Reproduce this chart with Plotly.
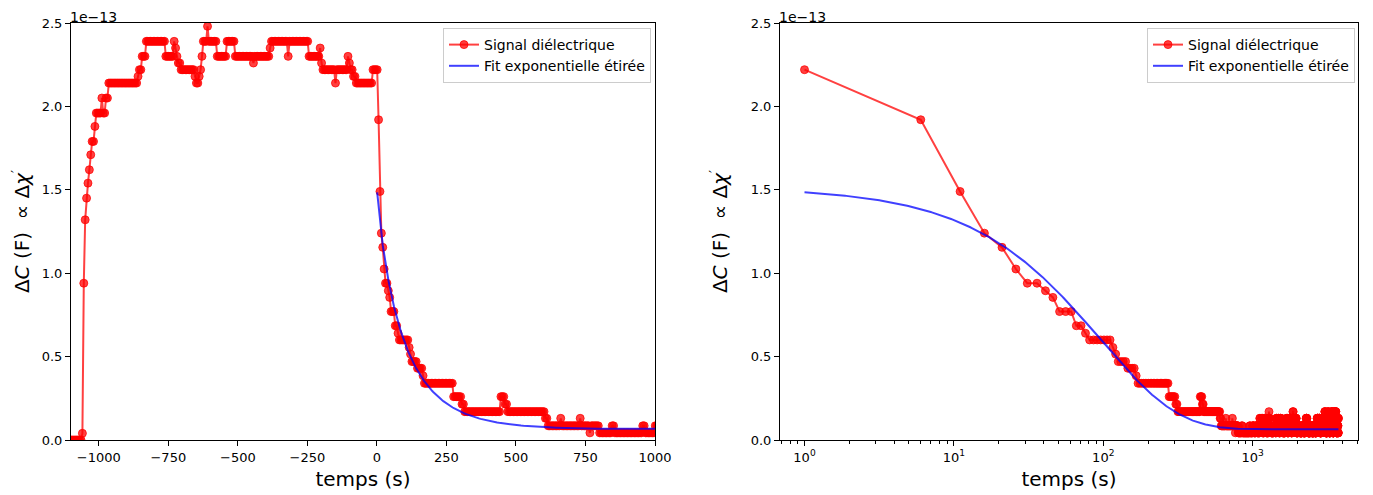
import numpy as np
import plotly.graph_objects as go

# ---------------- data (values in units of 1e-13 F) ----------------
# acquisition grid: one point every 5 s, first point at t = -1099 s
t_first = -1099
t_step = 5

# signal before and at the field switch (run-length: value, count)
pre_values = [0.0, 0.04, 0.94, 1.32, 1.45, 1.54, 1.62, 1.71, 1.79, 1.88, 1.96, 2.05, 1.96, 2.05,
              2.14, 2.18, 2.22, 2.30, 2.39, 2.30, 2.39, 2.35, 2.30, 2.26, 2.22, 2.18, 2.14, 2.18,
              2.22, 2.30, 2.39, 2.48, 2.39, 2.30, 2.39, 2.30, 2.26, 2.30, 2.35, 2.39, 2.30, 2.39,
              2.30, 2.35, 2.26, 2.22, 2.14, 2.22, 2.30, 2.26, 2.22, 2.18, 2.14, 2.22]
pre_counts = [8, 1, 1, 1, 1, 1, 1, 1, 2, 1, 4, 1, 2, 2,
              21, 1, 2, 3, 14, 6, 1, 1, 1, 2, 10, 1, 2, 1,
              1, 1, 3, 1, 6, 7, 6, 13, 1, 11, 1, 12, 1, 14,
              8, 1, 1, 9, 1, 8, 1, 1, 2, 2, 12, 4]

# relaxation after the switch, t = 6 s ... 996 s
decay_values = [1.92, 1.49, 1.24, 1.155, 1.025, 0.94, 0.895, 0.855, 0.77, 0.685, 0.64, 0.60,
                0.555, 0.515, 0.47, 0.43, 0.385, 0.34, 0.26, 0.215, 0.17, 0.26, 0.215, 0.17,
                0.13, 0.085, 0.13, 0.085, 0.13, 0.085, 0.043, 0.085, 0.043, 0.085, 0.043,
                0.085, 0.043]
decay_counts = [1, 1, 1, 1, 1, 2, 1, 1, 3, 2, 1, 7,
                1, 1, 4, 4, 1, 21, 6, 2, 26, 3, 2, 27,
                2, 9, 1, 13, 1, 6, 1, 6, 9, 2, 20,
                2, 7]

# long-time plateau, t = 1001 s ... end
tail_values = [0.085, 0.043, 0.085, 0.043, 0.13, 0.085, 0.13, 0.043, 0.13, 0.085, 0.043, 0.13,
               0.17, 0.13, 0.085, 0.043, 0.085, 0.043, 0.13, 0.085, 0.13, 0.043, 0.13, 0.085,
               0.043, 0.085, 0.13, 0.043, 0.085, 0.13, 0.043, 0.13, 0.17, 0.13, 0.085, 0.13,
               0.043, 0.085, 0.043, 0.085, 0.043, 0.085, 0.13, 0.085, 0.043, 0.085, 0.043,
               0.085, 0.043, 0.085, 0.13, 0.085, 0.13, 0.043, 0.13, 0.085, 0.13, 0.085, 0.17,
               0.13, 0.043, 0.085, 0.17, 0.13, 0.043, 0.085, 0.13, 0.17, 0.13, 0.043, 0.085,
               0.17, 0.13, 0.17, 0.085, 0.043, 0.13, 0.085, 0.043, 0.13]
tail_counts = [4, 6, 5, 8, 2, 5, 3, 6, 2, 6, 8, 2,
               1, 2, 6, 10, 8, 4, 3, 6, 3, 6, 4, 8,
               12, 8, 4, 6, 8, 6, 6, 4, 2, 6, 8, 4,
               10, 12, 14, 10, 12, 6, 6, 8, 16, 12, 14,
               10, 12, 6, 8, 6, 10, 12, 8, 8, 10, 6, 3,
               6, 14, 8, 3, 8, 12, 8, 6, 4, 8, 10, 8,
               3, 8, 4, 8, 8, 4, 4, 4, 2]

# stretched-exponential fit parameters
fit_amplitude = 1.45
fit_tau = 97.0
fit_beta = 0.85
fit_offset = 0.064

x_ticks_left = [-1000, -750, -500, -250, 0, 250, 500, 750, 1000]
x_ticks_right = [1, 10, 100, 1000]
x_ticktext_right = ["10<sup>0</sup>", "10<sup>1</sup>", "10<sup>2</sup>", "10<sup>3</sup>"]
y_ticks = [0.0, 0.5, 1.0, 1.5, 2.0, 2.5]

# ---------------- build series ----------------
signal = np.concatenate([np.repeat(pre_values, pre_counts),
                         np.repeat(decay_values, decay_counts),
                         np.repeat(tail_values, tail_counts)])
times = t_first + t_step * np.arange(len(signal))
pos = times > 0

t_fit = np.geomspace(1, times.max(), 500)
fit = fit_amplitude * np.exp(-(t_fit / fit_tau) ** fit_beta) + fit_offset

RED = "rgba(255,0,0,0.75)"
BLUE = "rgba(0,0,255,0.75)"
FONT = "DejaVu Sans"

fig = go.Figure()

def add_pair(xd, yd, xf, yf, xa, ya, leg):
    fig.add_trace(go.Scatter(x=xd, y=yd, mode="lines+markers", name="Signal diélectrique",
                             line=dict(color=RED, width=2),
                             marker=dict(color=RED, size=8, line=dict(color=RED, width=1)),
                             xaxis=xa, yaxis=ya, legend=leg))
    fig.add_trace(go.Scatter(x=xf, y=yf, mode="lines", name="Fit exponentielle étirée",
                             line=dict(color=BLUE, width=2),
                             xaxis=xa, yaxis=ya, legend=leg))

add_pair(times, signal, t_fit, fit, "x", "y", "legend")
add_pair(times[pos], signal[pos], t_fit, fit, "x2", "y2", "legend2")

# page has an 8 px body margin: figure is placed at (8, 8)
OFF = 8
W, H = 1373 - OFF, 495 - OFF
def px_x(v):
    return (v - OFF) / W
def px_y(v):
    return 1 - (v - OFF) / H

axis_common = dict(showline=True, linecolor="black", linewidth=1, mirror=True,
                   ticks="outside", ticklen=5, tickwidth=1, tickcolor="black",
                   showgrid=False, zeroline=False, automargin=False,
                   tickfont=dict(family=FONT, size=13, color="black"))

ydom = [px_y(440), px_y(23)]
ytitle = dict(text="Δ<i>C</i> (F)  ∝ Δ<i>χ</i><sup>′</sup>",
              font=dict(family=FONT, size=20, color="black"), standoff=17)
xtitle = dict(text="temps (s)", font=dict(family=FONT, size=20, color="black"), standoff=8)

fig.update_layout(
    width=W, height=H,
    margin=dict(l=0, r=0, t=0, b=0, autoexpand=False),
    paper_bgcolor="white", plot_bgcolor="white",
    font=dict(family=FONT, color="black"),
    xaxis=dict(domain=[px_x(71), px_x(655)], range=[-1100, 1000], tickvals=x_ticks_left,
               anchor="y", title=xtitle, **axis_common),
    yaxis=dict(domain=ydom, range=[0, 2.5], tickvals=y_ticks, tickformat=".1f",
               anchor="x", title=ytitle, **axis_common),
    xaxis2=dict(domain=[px_x(780), px_x(1358)], type="log", range=[-0.164, 3.705],
                tickvals=x_ticks_right, ticktext=x_ticktext_right, anchor="y2", title=xtitle,
                minor=dict(ticks="outside", ticklen=3, tickcolor="black", dtick="D1", showgrid=False),
                **axis_common),
    yaxis2=dict(domain=ydom, range=[0, 2.5], tickvals=y_ticks, tickformat=".1f",
                anchor="x2", title=ytitle, **axis_common),
    legend=dict(x=px_x(651), y=px_y(28), xanchor="right", yanchor="top",
                bgcolor="rgba(255,255,255,0.8)", bordercolor="#cccccc", borderwidth=1,
                font=dict(family=FONT, size=14, color="black")),
    legend2=dict(x=px_x(1355), y=px_y(28), xanchor="right", yanchor="top",
                 bgcolor="rgba(255,255,255,0.8)", bordercolor="#cccccc", borderwidth=1,
                 font=dict(family=FONT, size=14, color="black")),
    annotations=[
        dict(text="1e−13", x=px_x(69), y=1.0, xref="paper", yref="paper",
             xanchor="left", yanchor="top", showarrow=False, borderpad=0,
             font=dict(family=FONT, size=14, color="black")),
        dict(text="1e−13", x=px_x(778), y=1.0, xref="paper", yref="paper",
             xanchor="left", yanchor="top", showarrow=False, borderpad=0,
             font=dict(family=FONT, size=14, color="black")),
    ],
)

fig.write_html("out.html")
